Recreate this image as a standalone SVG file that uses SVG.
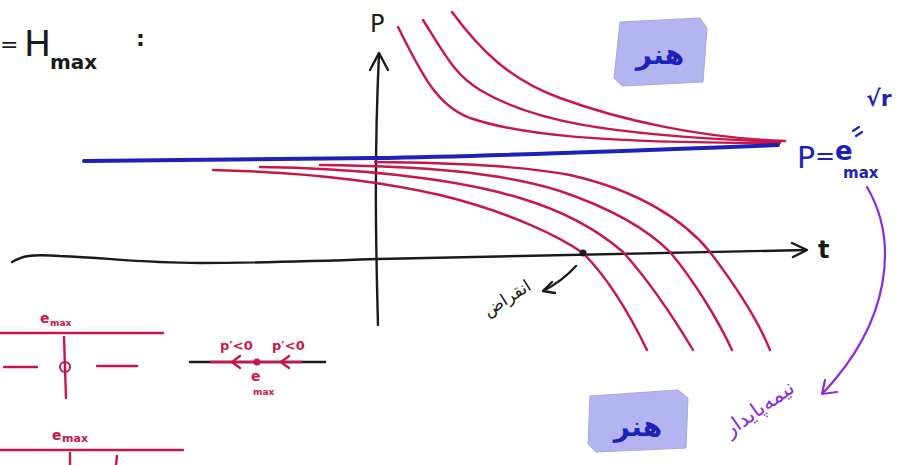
<svg xmlns="http://www.w3.org/2000/svg" width="905" height="465" viewBox="0 0 905 465">
<style>
.red{fill:none;stroke:#c8164a;stroke-width:2.4;stroke-linecap:round;stroke-linejoin:round}
.blk{fill:none;stroke:#1a1a1a;stroke-width:2.4;stroke-linecap:round;stroke-linejoin:round}
.blu{fill:none;stroke:#1c22b8;stroke-width:4;stroke-linecap:round}
.pur{fill:none;stroke:#8a2be2;stroke-width:2.2;stroke-linecap:round;stroke-linejoin:round}
.tb{font-family:"DejaVu Sans","Liberation Sans",sans-serif;fill:#1a1a1a}
.tr{font-family:"DejaVu Sans","Liberation Sans",sans-serif;fill:#c8164a;font-weight:bold}
.tbl{font-family:"DejaVu Sans","Liberation Sans",sans-serif;fill:#1c22b8}
.tp{font-family:"DejaVu Sans","Liberation Sans",sans-serif;fill:#8a2be2}
.box{fill:#b4b4f0;stroke:#a8a8e0;stroke-width:1}
</style>
<rect width="905" height="465" fill="#ffffff"/>

<g id="title">
<text class="tb" x="0" y="52" font-size="22">=</text>
<text class="tb" x="24" y="56" font-size="36">H</text>
<text class="tb" x="50" y="69" font-size="20" font-weight="bold">max</text>
<text class="tb" x="136" y="46" font-size="22" font-weight="bold">:</text>
</g>

<g id="axes">
<path class="blk" d="M378,325 C 376,250 374,160 379,54"/>
<path class="blk" d="M370,70 L379,53 L388,70"/>
<text class="tb" x="370" y="32" font-size="24">P</text>
<path class="blk" d="M12,262 C 22,256 30,254 60,256 C 110,258 140,263 200,263 C 260,263 320,261 378,259 C 500,256 650,252 806,250"/>
<path class="blk" d="M792,243 L807,250 L793,257"/>
<text class="tb" x="818" y="258" font-size="24" font-weight="bold">t</text>
</g>

<g id="connectors">
<path class="red" d="M398,27 C 420,70 435,105 470,118 C 520,135 600,143 780,143"/>
<path class="red" d="M423,20 C 445,55 455,75 480,90 C 530,120 600,135 780,142"/>
<path class="red" d="M452,12 C 480,50 510,80 560,98 C 620,120 700,138 785,141"/>
<path class="blu" d="M84,161 L375,158 C 500,156 650,150 778,145"/>
<path class="red" d="M213,170 C 300,172 375,180 440,195 C 510,212 560,237 583,253 C 610,280 630,315 647,350"/>
<path class="red" d="M260,167 C 350,168 450,177 520,198 C 570,213 600,232 623,252 C 650,282 675,320 693,350"/>
<path class="red" d="M320,165 C 420,166 500,172 560,191 C 610,208 645,227 670,252 C 695,282 718,320 732,350"/>
<path class="red" d="M375,162 C 460,163 520,166 570,175 C 640,191 685,221 710,252 C 735,285 758,320 770,350"/>
<circle cx="583" cy="253" r="3.5" fill="#1a1a1a"/>
<path class="blk" stroke-width="2" d="M576,266 C 565,278 555,285 543,291"/>
<path class="blk" stroke-width="2" d="M552,282 L543,291 L555,293"/>
<path class="pur" d="M867,187 C 898,240 892,320 823,393"/>
<path class="pur" d="M825,380 L822,394 L837,392"/>
</g>

<g id="extinction">
<text class="tb" x="0" y="0" font-size="17" text-anchor="middle" transform="translate(510,303) rotate(-32)">انقراض</text>
</g>

<g id="equilibrium-label">
<text class="tbl" x="797" y="168" font-size="30">P</text>
<text class="tbl" x="815" y="164" font-size="24">=</text>
<text class="tbl" x="835" y="160" font-size="26" font-weight="bold">e</text>
<text class="tbl" x="843" y="178" font-size="15" font-weight="bold">max</text>
<path d="M853,131 L859,127 M856,136 L862,132" stroke="#1c22b8" stroke-width="2.2" stroke-linecap="round"/>
<text class="tbl" x="866" y="106" font-size="22" font-weight="bold">√r</text>
</g>

<g id="stamp-top">
<path class="box" d="M620,22 L700,18 L707,28 L703,82 L622,86 L614,78 Z"/>
<text class="tbl" x="660" y="64" font-size="28" font-weight="bold" text-anchor="middle">هنر</text>
</g>

<g id="stamp-bottom">
<path class="box" d="M590,396 L678,390 L688,398 L686,448 L596,452 L588,444 Z"/>
<text class="tbl" x="638" y="436" font-size="28" font-weight="bold" text-anchor="middle">هنر</text>
</g>

<g id="semistable">
<text class="tp" x="0" y="0" font-size="21" text-anchor="middle" transform="translate(763,414) rotate(-35)">نیمه‌پایدار</text>
</g>

<g id="phase-vertical">
<path class="red" d="M0,333 L163,333"/>
<text class="tr" x="40" y="323" font-size="14">e</text>
<text class="tr" x="50" y="326" font-size="9">max</text>
<path class="red" d="M64,337 L66,398"/>
<circle cx="65" cy="367" r="5" fill="none" stroke="#c8164a" stroke-width="2"/>
<path class="red" d="M4,367 L37,367"/>
<path class="red" d="M97,366 L137,366"/>
<path class="red" d="M0,450 L183,450"/>
<text class="tr" x="52" y="440" font-size="14">e</text>
<text class="tr" x="62" y="442" font-size="11">max</text>
<path class="red" d="M70,453 L70,465"/>
<path class="red" d="M117,456 L116,465"/>
</g>

<g id="phase-line">
<path class="blk" d="M190,362 L325,362"/>
<path d="M210,362 L256,362 M258,362 L302,362" stroke="#c8164a" stroke-width="2.4"/>
<path class="red" d="M240,356 L232,362 L240,368"/>
<path class="red" d="M289,356 L281,362 L289,368"/>
<circle cx="257" cy="362" r="3.5" fill="#c8164a"/>
<text class="tr" x="220" y="350" font-size="13">p′&lt;0</text>
<text class="tr" x="272" y="350" font-size="13">p′&lt;0</text>
<text class="tr" x="251" y="381" font-size="14">e</text>
<text class="tr" x="253" y="395" font-size="9">max</text>
</g>
</svg>
